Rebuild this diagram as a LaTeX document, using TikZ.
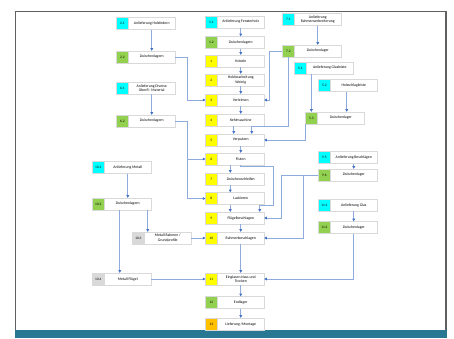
\documentclass[tikz,border=0pt]{standalone}
\usepackage{fontspec}
\setmainfont{Carlito}
\usetikzlibrary{arrows.meta, positioning}
\definecolor{anlcyan}{RGB}{0, 255, 255}
\definecolor{lagergreen}{RGB}{146, 208, 80}
\definecolor{procyellow}{RGB}{255, 255, 0}
\definecolor{lieforange}{RGB}{255, 192, 0}
\definecolor{metallgray}{RGB}{217, 217, 217}
\definecolor{linkblue}{RGB}{143, 170, 220}
\definecolor{tipblue}{RGB}{68, 114, 196}
\definecolor{pageteal}{RGB}{40, 120, 148}
\tikzset{
  stepbox/.style = {
    rectangle,
    draw=gray!30,
    fill=white,
    minimum width=46.5pt,
    minimum height=12pt,
    inner sep=0.4pt,
    align=center,
    font=\fontsize{3.8}{4.4}\selectfont
  },
  nrbox/.style = {
    rectangle,
    draw=gray!30,
    minimum width=11.5pt,
    minimum height=12pt,
    inner sep=0pt,
    font=\fontsize{3.5}{4}\selectfont,
    left=0pt of #1
  },
  flowarrow/.style = {
    -{Triangle[length=2.6pt, width=2.8pt, color=tipblue]},
    line width=0.7pt,
    draw=linkblue
  }
}

\begin{document}
\begin{tikzpicture}[x=1pt, y=1pt]
  \useasboundingbox (0,0) rectangle (454,-338);

  % Page frame and footer bar
  \draw[gray!75!black, line width=1.4pt] (15.5,-330) -- (15.5,-11.5) -- (446,-11.5) -- (446,-330);
  \fill[pageteal] (15,-330) rectangle (447,-338);

  % Left column: wood supplies
  \node[stepbox] (lffedern) at (151.75,-23.5) {Anlieferung Holzfedern};
  \node[nrbox=lffedern, fill=anlcyan] (nrlffedern) {2.1};
  \node[stepbox] (zlfedern) at (151.75,-57) {Zwischenlagern};
  \node[nrbox=zlfedern, fill=lagergreen] (nrzlfedern) {2.2};
  \node[stepbox] (lfoberfl) at (151.75,-88) {Anlieferung Diverse\\Oberfl.- Material};
  \node[nrbox=lfoberfl, fill=anlcyan] (nrlfoberfl) {6.1};
  \node[stepbox] (zloberfl) at (151.75,-121) {Zwischenlagern};
  \node[nrbox=zloberfl, fill=lagergreen] (nrzloberfl) {6.2};

  % Left column: metal
  \node[stepbox] (lfmetall) at (127.75,-167.5) {Anlieferung Metall};
  \node[nrbox=lfmetall, fill=anlcyan] (nrlfmetall) {10.1};
  \node[stepbox] (zlmetall) at (127.75,-204) {Zwischenlagern};
  \node[nrbox=zlmetall, fill=lagergreen] (nrzlmetall) {10.2};
  \node[stepbox] (metrahmen) at (167.75,-238) {Metall Rahmen /\\Grundprofile};
  \node[nrbox=metrahmen, fill=metallgray] (nrmetrahmen) {10.3};
  \node[stepbox] (metfluegel) at (127.75,-279) {Metall Flügel};
  \node[nrbox=metfluegel, fill=metallgray] (nrmetfluegel) {10.4};

  % Middle column: main production line
  \node[stepbox] (lfholz) at (240.75,-22) {Anlieferung Fensterholz};
  \node[nrbox=lfholz, fill=anlcyan] (nrlfholz) {1.1};
  \node[stepbox] (zlholz) at (240.75,-42.5) {Zwischenlagern};
  \node[nrbox=zlholz, fill=lagergreen] (nrzlholz) {1.2};
  \node[stepbox] (hobeln) at (240.75,-61) {Hobeln};
  \node[nrbox=hobeln, fill=procyellow] (nrhobeln) {1};
  \node[stepbox] (weinig) at (240.75,-80) {Holzbearbeitung\\Weinig};
  \node[nrbox=weinig, fill=procyellow] (nrweinig) {2};
  \node[stepbox] (verleimen) at (240.75,-100) {Verleimen};
  \node[nrbox=verleimen, fill=procyellow] (nrverleimen) {3};
  \node[stepbox] (kehlen) at (240.75,-120) {Kehlmaschine};
  \node[nrbox=kehlen, fill=procyellow] (nrkehlen) {4};
  \node[stepbox] (verputzen) at (240.75,-140) {Verputzen};
  \node[nrbox=verputzen, fill=procyellow] (nrverputzen) {5};
  \node[stepbox] (fluten) at (240.75,-159) {Fluten};
  \node[nrbox=fluten, fill=procyellow] (nrfluten) {6};
  \node[stepbox] (schleifen) at (240.75,-179) {Zwischenschleifen};
  \node[nrbox=schleifen, fill=procyellow] (nrschleifen) {7};
  \node[stepbox] (lackieren) at (240.75,-198.5) {Lackieren};
  \node[nrbox=lackieren, fill=procyellow] (nrlackieren) {8};
  \node[stepbox] (fluegel) at (240.75,-218) {Flügelbeschlagen};
  \node[nrbox=fluegel, fill=procyellow] (nrfluegel) {9};
  \node[stepbox] (rahmen) at (240.75,-238) {Rahmenbeschlagen};
  \node[nrbox=rahmen, fill=procyellow] (nrrahmen) {10};
  \node[stepbox] (einglasen) at (240.75,-279) {Einglasen Nass und\\Trocken};
  \node[nrbox=einglasen, fill=procyellow] (nreinglasen) {11};
  \node[stepbox] (endlager) at (240.75,-302.5) {Endlager};
  \node[nrbox=endlager, fill=lagergreen] (nrendlager) {12};
  \node[stepbox] (montage) at (240.75,-324) {Lieferung /Montage};
  \node[nrbox=montage, fill=lieforange] (nrmontage) {13};

  % Right column: frame parts, strips, fittings, glass
  \node[stepbox] (lfverbr) at (317.75,-19.5) {Anlieferung\\Rahmenverbreiterung};
  \node[nrbox=lfverbr, fill=anlcyan] (nrlfverbr) {7.1};
  \node[stepbox] (zlverbr) at (317.75,-51) {Zwischenlager};
  \node[nrbox=zlverbr, fill=lagergreen] (nrzlverbr) {7.2};
  \node[stepbox] (lfglasl) at (329.75,-68) {Anlieferung Glasleiste};
  \node[nrbox=lfglasl, fill=anlcyan] (nrlfglasl) {5.1};
  \node[stepbox] (lfschlag) at (353.75,-85.5) {Holzschlagleiste};
  \node[nrbox=lfschlag, fill=anlcyan] (nrlfschlag) {5.2};
  \node[stepbox] (zlleisten) at (340.75,-118) {Zwischenlager};
  \node[nrbox=zlleisten, fill=lagergreen] (nrzlleisten) {5.3};
  \node[stepbox] (lfbeschl) at (353.75,-157.5) {Anlieferung Beschlägen};
  \node[nrbox=lfbeschl, fill=anlcyan] (nrlfbeschl) {9.5};
  \node[stepbox] (zlbeschl) at (353.75,-175) {Zwischenlager};
  \node[nrbox=zlbeschl, fill=lagergreen] (nrzlbeschl) {9.6};
  \node[stepbox] (lfglas) at (353.75,-205) {Anlieferung Glas};
  \node[nrbox=lfglas, fill=anlcyan] (nrlfglas) {11.1};
  \node[stepbox] (zlglas) at (353.75,-227.5) {Zwischenlager};
  \node[nrbox=zlglas, fill=lagergreen] (nrzlglas) {11.2};

  % Main line arrows
  \draw[flowarrow] (lfholz) -- (zlholz);
  \draw[flowarrow] (zlholz) -- (hobeln);
  \draw[flowarrow] (hobeln) -- (weinig);
  \draw[flowarrow] (weinig) -- (verleimen);
  \draw[flowarrow] (verleimen) -- (kehlen);
  \draw[flowarrow] ([xshift=-7pt]kehlen.south) -- ([xshift=-7pt]verputzen.north);
  \draw[flowarrow] (verputzen) -- (fluten);
  \draw[flowarrow] ([xshift=-10.5pt]fluten.south) -- ([xshift=-10.5pt]schleifen.north);
  \draw[flowarrow] ([xshift=-10.5pt]schleifen.south) -- ([xshift=-10.5pt]lackieren.north);
  \draw[flowarrow] ([xshift=-10.5pt]lackieren.south) -- ([xshift=-10.5pt]fluegel.north);
  \draw[flowarrow] (fluten.south) -- ++(0,-1.5pt) -| ([xshift=33pt, yshift=6pt]fluegel.north) -- ([xshift=19pt, yshift=6pt]fluegel.north) -- ([xshift=19pt]fluegel.north);
  \draw[flowarrow] (fluegel) -- (rahmen);
  \draw[flowarrow] (rahmen) -- (einglasen);
  \draw[flowarrow] (einglasen) -- (endlager);
  \draw[flowarrow] (endlager) -- (montage);

  % Left side feeds
  \draw[flowarrow] (lffedern) -- (zlfedern);
  \draw[flowarrow] (zlfedern.east) -- ++(12pt,0) |- (nrverleimen.west);
  \draw[flowarrow] (lfoberfl) -- (zloberfl);
  \draw[flowarrow] (zloberfl.east) -- ++(12pt,0) |- (nrfluten.west);
  \draw[flowarrow] (zloberfl.east) -- ++(12pt,0) |- (nrlackieren.west);
  \draw[flowarrow] (lfmetall) -- (zlmetall);
  \draw[flowarrow] ([xshift=20pt]zlmetall.south) -- ([xshift=20pt]zlmetall.south |- metrahmen.north);
  \draw[flowarrow] ([xshift=-8pt]zlmetall.south) -- ([xshift=-8pt]metfluegel.north);
  \draw[flowarrow] (metrahmen.east) -- (nrrahmen.west);
  \draw[flowarrow] (metfluegel.east) -- (nreinglasen.west);

  % Right side feeds
  \draw[flowarrow] (lfverbr) -- (zlverbr);
  \draw[flowarrow] (nrzlverbr.west) -- ++(-13pt,0) |- (verleimen.east);
  \draw[flowarrow] (nrzlverbr.south) |- ([xshift=11pt, yshift=7pt]verputzen.north) -- ([xshift=11pt]verputzen.north);
  \draw[flowarrow] (nrzlleisten.north |- lfglasl.south) -- (nrzlleisten.north);
  \draw[flowarrow] ([xshift=-7pt]lfschlag.south) -- ([xshift=-7pt]lfschlag.south |- zlleisten.north);
  \draw[flowarrow] (nrzlleisten.south west) |- (verputzen.east);
  \draw[flowarrow] (lfbeschl) -- (zlbeschl);
  \draw[flowarrow] (nrzlbeschl.west) -- ++(-37pt,0) |- (fluegel.east);
  \draw[flowarrow] (nrzlbeschl.west) -- ++(-15pt,0) |- (rahmen.east);
  \draw[flowarrow] (lfglas) -- (zlglas);
  \draw[flowarrow] (zlglas.south) |- (einglasen.east);
\end{tikzpicture}
\end{document}
